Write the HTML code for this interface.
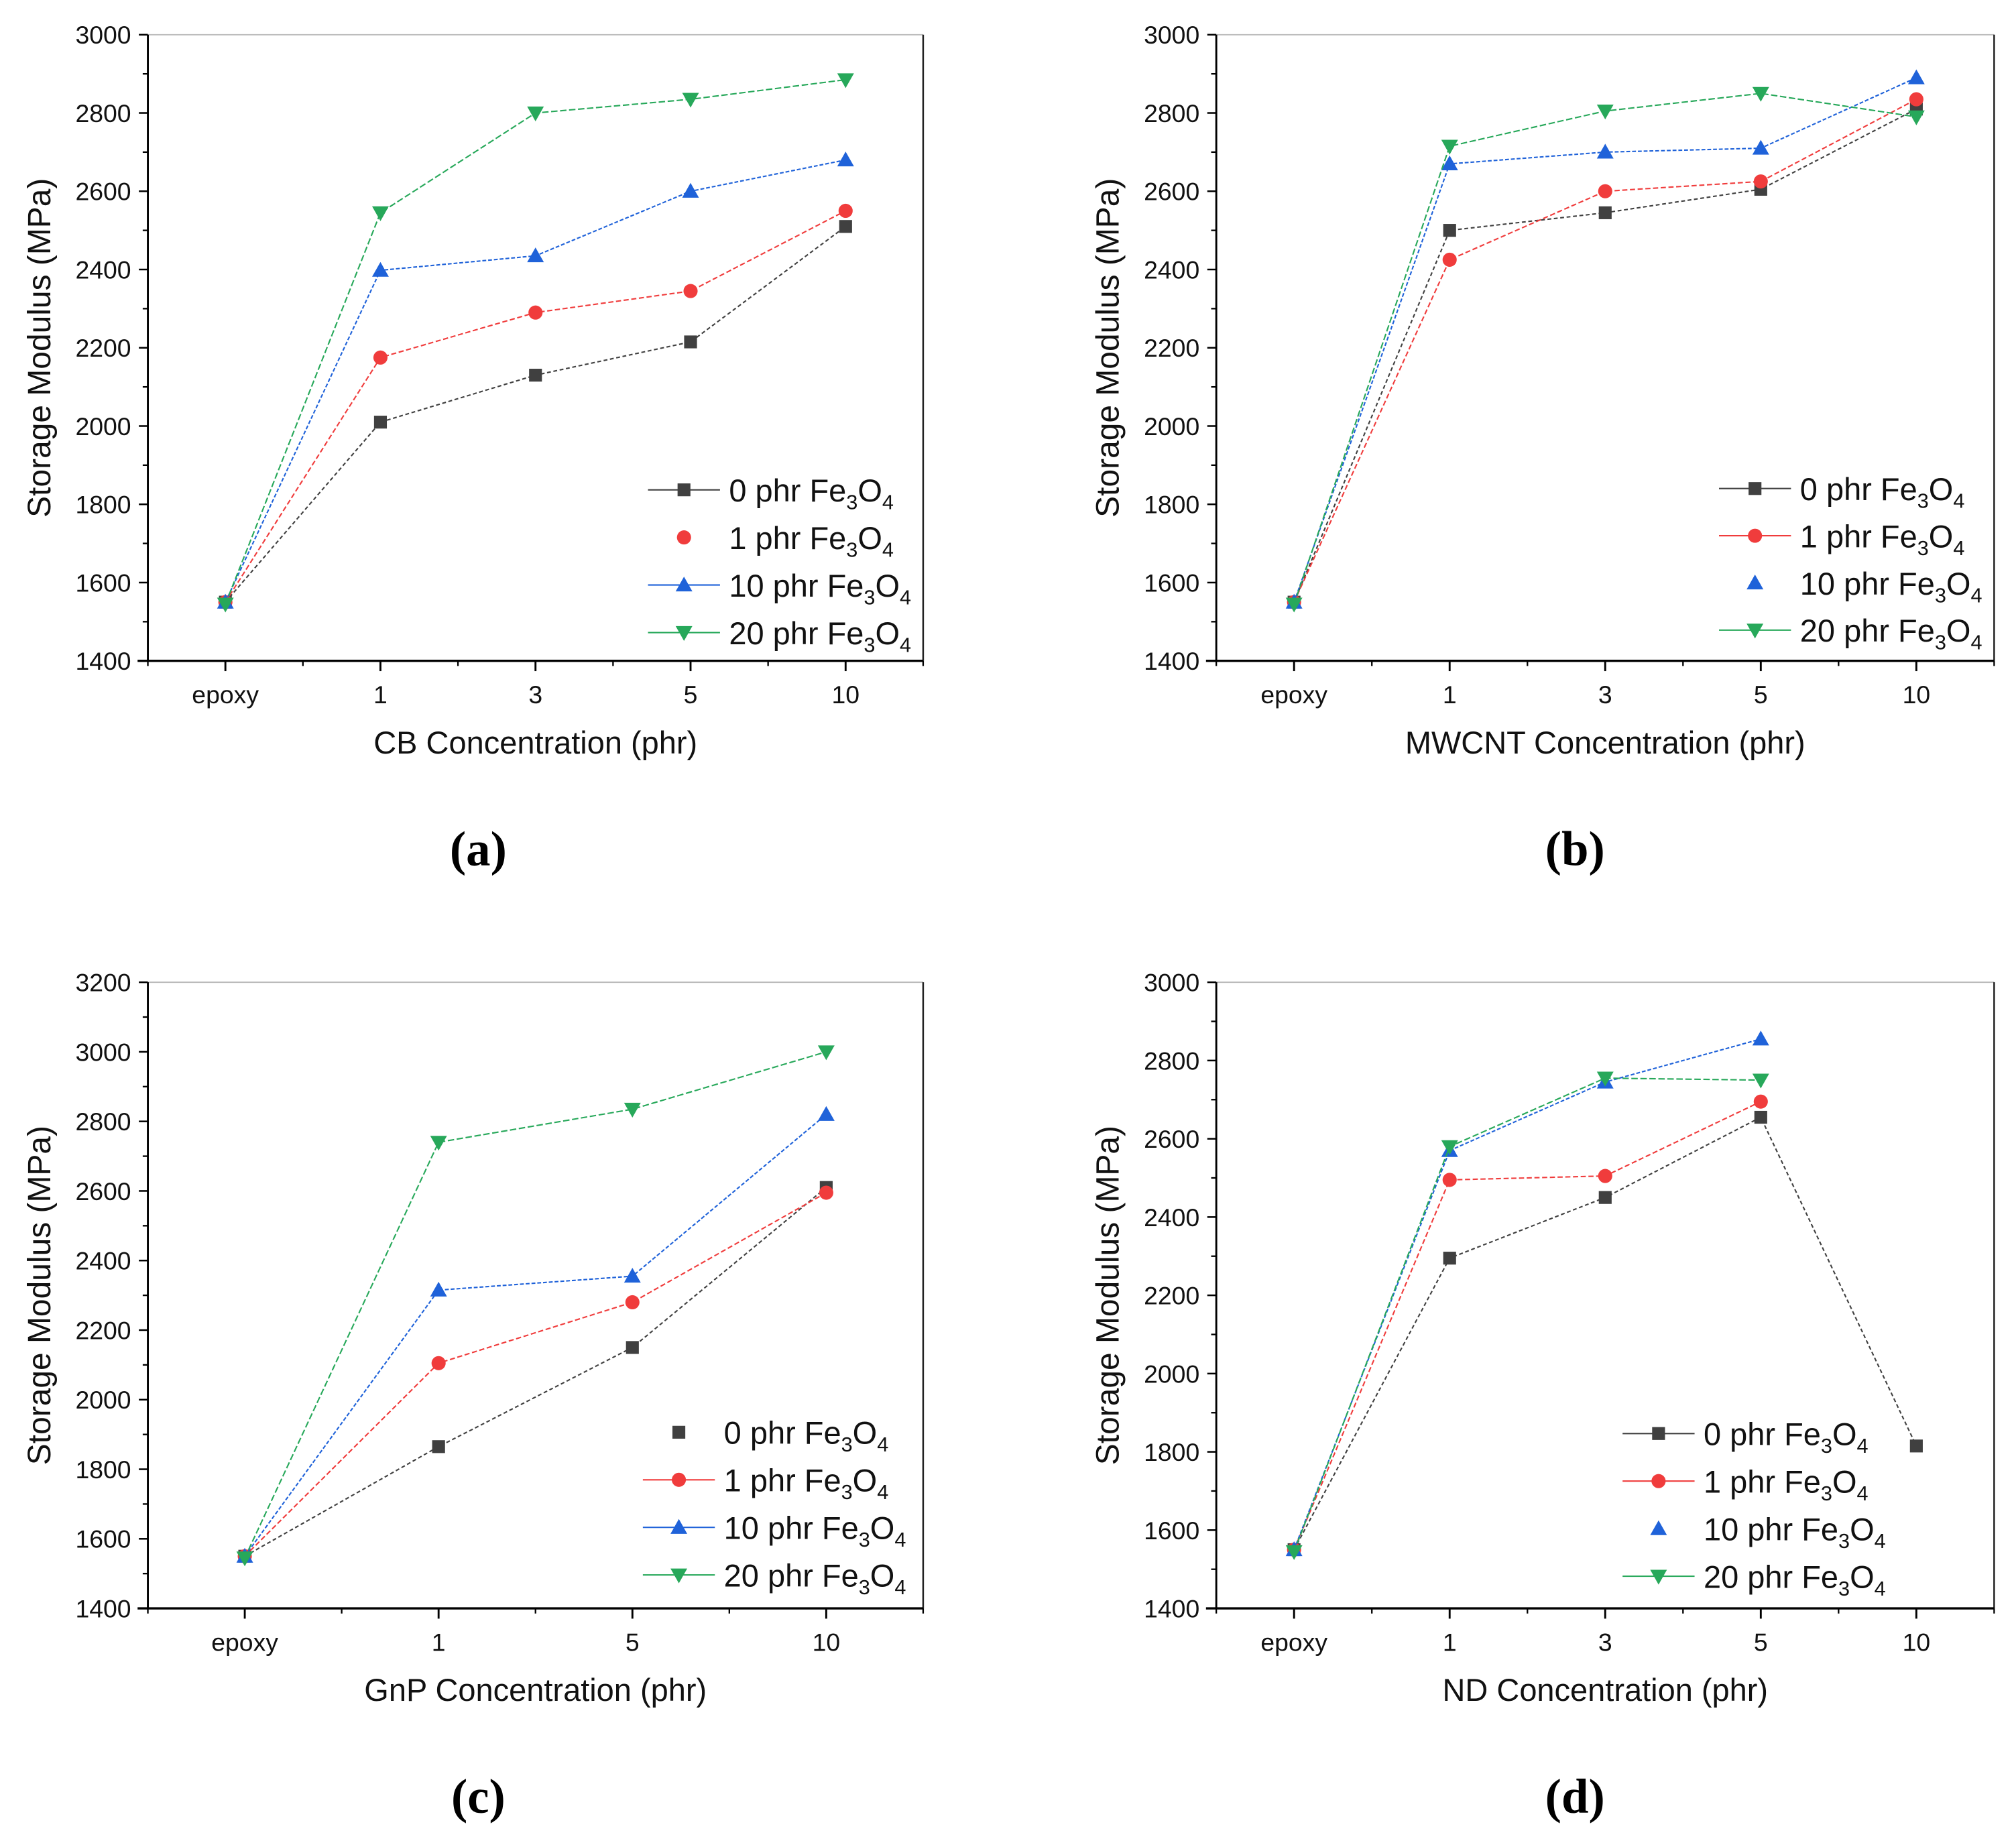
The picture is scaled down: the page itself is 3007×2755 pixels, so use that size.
<!DOCTYPE html>
<html><head><meta charset="utf-8"><style>
html,body{margin:0;padding:0;background:#fff;}
svg{display:block;font-family:"Liberation Sans",sans-serif;}
</style></head><body>
<svg id="fig" width="3007" height="2755" viewBox="0 0 1568 1436.6" xmlns="http://www.w3.org/2000/svg"></svg>
<script>
// ---- data ----
const catsA = ["epoxy","1","3","5","10"];
const catsB = ["epoxy","1","3","5","10"];
const catsC = ["epoxy","1","5","10"];
const catsD = ["epoxy","1","3","5","10"];
const seriesNames = ["0 phr","1 phr","10 phr","20 phr"];
const a0 = [1550,2010,2130,2215,2510];
const a1 = [1550,2175,2290,2345,2550];
const a10 = [1550,2398,2435,2600,2680];
const a20 = [1545,2545,2800,2835,2885];
const b0 = [1550,2500,2545,2605,2810];
const b1 = [1550,2425,2600,2625,2835];
const b10 = [1550,2670,2700,2710,2890];
const b20 = [1545,2715,2805,2850,2790];
const c0 = [1550,1865,2150,2610];
const c1 = [1550,2105,2280,2595];
const c10 = [1550,2315,2355,2820];
const c20 = [1545,2740,2835,3000];
const d0 = [1550,2295,2450,2655,1815];
const d1 = [1550,2495,2505,2695,null];
const d10 = [1550,2570,2745,2855,null];
const d20 = [1545,2580,2755,2750,null];
const ticksStd = [1400,1600,1800,2000,2200,2400,2600,2800,3000];
const ticksC = [1400,1600,1800,2000,2200,2400,2600,2800,3000,3200];

const NS="http://www.w3.org/2000/svg";
const svg=document.getElementById('fig');
function mk(tag,attrs,parent){const e=document.createElementNS(NS,tag);for(const k in attrs)e.setAttribute(k,attrs[k]);(parent||svg).appendChild(e);return e;}
const colors=["#404040","#f03c3c","#1f62d9","#27a85a"];
const dashes=["3,2","4,2","3,1.5","5,2"];

function marker(g,type,x,y,col){
  let e;
  if(type===0){e=mk('rect',{x:x-5,y:y-5,width:10,height:10,fill:col},g);}
  else if(type===1){e=mk('circle',{cx:x,cy:y,r:5.5,fill:col},g);}
  else if(type===2){e=mk('polygon',{points:`${x},${y-6.5} ${x-6.5},${y+5} ${x+6.5},${y+5}`,fill:col},g);}
  else {e=mk('polygon',{points:`${x},${y+6.5} ${x-6.5},${y-5} ${x+6.5},${y-5}`,fill:col},g);}
  return e;
}

function panel(id,o){
  const g=mk('g',{});
  
  
  const {x0,x1,y0,y1,ymin,ymax,ticks,cats,series,xlabel,legend,labelX}=o;
  const n=cats.length;
  const step=(x1-x0)/n;
  const xs=i=>x0+step*(i+0.5);
  const ys=v=>y1-(v-ymin)/(ymax-ymin)*(y1-y0);
  mk('line',{x1:x0,y1:y0,x2:x1,y2:y0,stroke:'#bbb','stroke-width':1},g);
  mk('line',{x1:x1,y1:y0,x2:x1,y2:y1,stroke:'#222','stroke-width':1.3},g);
  const ya=mk('line',{x1:x0,y1:y0,x2:x0,y2:y1,stroke:'#000','stroke-width':1.5},g);
  
  
  const xa=mk('line',{x1:x0-8,y1:y1,x2:x1,y2:y1,stroke:'#000','stroke-width':1.8},g);
  
  
  ticks.forEach((t,i)=>{
    const y=ys(t);
    mk('line',{x1:x0-7,y1:y,x2:x0,y2:y,stroke:'#000','stroke-width':1.3},g);
    if(i<ticks.length-1){const ym=ys(t+(ticks[1]-ticks[0])/2);mk('line',{x1:x0-4,y1:ym,x2:x0,y2:ym,stroke:'#000','stroke-width':1.2},g);}
    const tx=mk('text',{x:x0-13,y:y+7,'text-anchor':'end','font-size':19.5,fill:'#111'},g);
    tx.textContent=t;
    
    
  });
  for(let i=0;i<n;i++){
    const x=xs(i);
    mk('line',{x1:x,y1:y1,x2:x,y2:y1+8,stroke:'#000','stroke-width':1.5},g);
    mk('line',{x1:x0+step*i,y1:y1,x2:x0+step*i,y2:y1+4,stroke:'#000','stroke-width':1.2},g);
    const tx=mk('text',{x:x,y:y1+33,'text-anchor':'middle','font-size':19.5,fill:'#111'},g);
    tx.textContent=cats[i];
    
    
  }
  mk('line',{x1:x1,y1:y1,x2:x1,y2:y1+4,stroke:'#000','stroke-width':1.2},g);
  const yt=mk('text',{x:0,y:0,transform:`translate(${x0-76},${(y0+y1)/2}) rotate(-90)`,'text-anchor':'middle','font-size':25,fill:'#111'},g);
  yt.textContent='Storage Modulus (MPa)';
  
  
  const xt=mk('text',{x:(x0+x1)/2,y:y1+72,'text-anchor':'middle','font-size':24.5,fill:'#111'},g);
  xt.textContent=xlabel;
  
  
  const pl=mk('text',{x:labelX,y:y1+159,'text-anchor':'middle','font-size':38,'font-weight':'bold','font-family':'Liberation Serif, serif',fill:'#000'},g);
  pl.textContent='('+id+')';
  
  
  series.forEach((vals,s)=>{
    const sg=mk('g',{},g);
    
    
    const pts=[];
    vals.forEach((v,i)=>{if(v!==null)pts.push(xs(i)+','+ys(v));});
    mk('polyline',{points:pts.join(' '),fill:'none',stroke:colors[s],'stroke-width':1.1,'stroke-dasharray':dashes[s]},sg);
    vals.forEach((v,i)=>{
      if(v===null)return;
      const m=marker(sg,s,xs(i),ys(v),colors[s]);
      
      
    });
  });
  const lg=mk('g',{},g);
  
  
  seriesNames.forEach((nm,s)=>{
    const y=legend.y+s*legend.dy;
    const eg=mk('g',{},lg);
    
    
    if(legend.noLine!==s) mk('line',{x1:legend.x,y1:y,x2:legend.x+56,y2:y,stroke:colors[s],'stroke-width':1.1},eg);
    marker(eg,s,legend.x+28,y,colors[s]);
    const t=mk('text',{x:legend.x+63,y:y+9,'font-size':24.5,fill:'#111'},eg);
    t.innerHTML=nm+' Fe<tspan dy="6" font-size="16">3</tspan><tspan dy="-6">O</tspan><tspan dy="6" font-size="16">4</tspan>';
  });
}

panel('a',{x0:115,x1:718,y0:27,y1:514,ymin:1400,ymax:3000,ticks:ticksStd,cats:catsA,series:[a0,a1,a10,a20],xlabel:'CB Concentration (phr)',legend:{x:504,y:381,dy:37,noLine:1},labelX:372});
panel('b',{x0:946,x1:1551,y0:27,y1:514,ymin:1400,ymax:3000,ticks:ticksStd,cats:catsB,series:[b0,b1,b10,b20],xlabel:'MWCNT Concentration (phr)',legend:{x:1337,y:380,dy:36.7,noLine:2},labelX:1225});
panel('c',{x0:115,x1:718,y0:764,y1:1251,ymin:1400,ymax:3200,ticks:ticksC,cats:catsC,series:[c0,c1,c10,c20],xlabel:'GnP Concentration (phr)',legend:{x:500,y:1114,dy:37,noLine:0},labelX:372});
panel('d',{x0:946,x1:1551,y0:764,y1:1251,ymin:1400,ymax:3000,ticks:ticksStd,cats:catsD,series:[d0,d1,d10,d20],xlabel:'ND Concentration (phr)',legend:{x:1262,y:1115,dy:37,noLine:2},labelX:1225});
</script>
</body></html>
